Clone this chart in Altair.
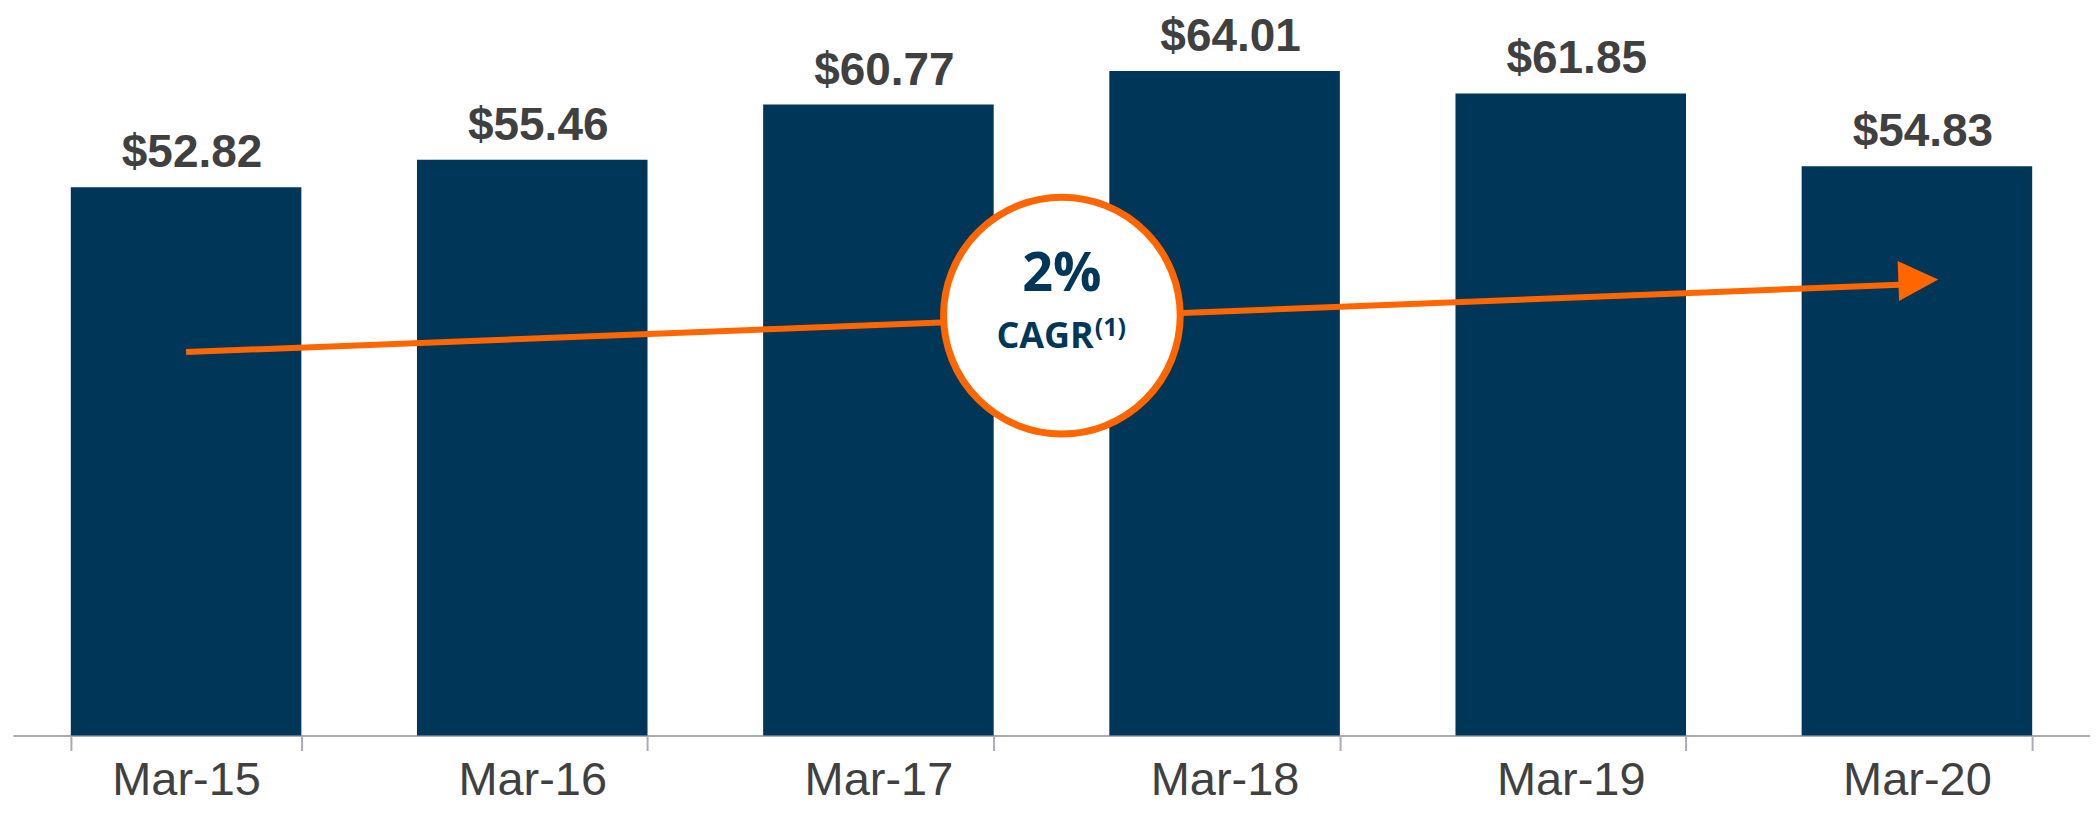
import altair as alt
import pandas as pd

# ---- data ----
categories = ["Mar-15", "Mar-16", "Mar-17", "Mar-18", "Mar-19", "Mar-20"]
values = [52.82, 55.46, 60.77, 64.01, 61.85, 54.83]
value_labels = ["$52.82", "$55.46", "$60.77", "$64.01", "$61.85", "$54.83"]

# trend arrow (x in category units 0..6, y in value units)
trend_x = [0.5, 5.449]
trend_y = [36.93, 43.41]
arrow_tip_x = [5.504]
arrow_tip_y = [43.85]

# CAGR badge
badge_x = [3.03]
badge_y = [40.45]
badge_value = ["2%"]
badge_caption = ["CAGR"]
badge_note = ["(1)"]

NAVY = "#003658"
ORANGE = "#FF6600"
GREY_TEXT = "#404040"
AXIS_GREY = "#A9ADB3"
Y_DOMAIN = [0, 68]
X_DOMAIN = [0, 6]

bar_df = pd.DataFrame({"period": categories, "value": values, "label": value_labels})
trend_df = pd.DataFrame({"x": [trend_x[0]], "x2": [trend_x[1]],
                         "y": [trend_y[0]], "y2": [trend_y[1]]})
tip_df = pd.DataFrame({"x": arrow_tip_x, "y": arrow_tip_y})
badge_df = pd.DataFrame({"x": badge_x, "y": badge_y, "v": badge_value,
                         "c": badge_caption, "n": badge_note})

yscale = alt.Scale(domain=Y_DOMAIN, nice=False, zero=True)
xband = alt.X("period:N", sort=categories,
              scale=alt.Scale(paddingInner=0.334, paddingOuter=0.167),
              axis=alt.Axis(title=None, labelAngle=0))
yval = alt.Y("value:Q", scale=yscale, axis=None)

bars = alt.Chart(bar_df).mark_bar(color=NAVY).encode(x=xband, y=yval)
labels = alt.Chart(bar_df).mark_text(
    font="Liberation Sans", fontWeight="bold", fontSize=46, color=GREY_TEXT,
    align="center", baseline="alphabetic", dx=6, dy=-20
).encode(x=xband, y=yval, text="label:N")

base = alt.layer(bars, labels)

xq = alt.X("x:Q", scale=alt.Scale(domain=X_DOMAIN, nice=False, zero=False), axis=None)
yq = alt.Y("y:Q", scale=yscale, axis=None)

trend = alt.Chart(trend_df).mark_rule(color=ORANGE, strokeWidth=6).encode(
    x=xq, x2="x2:Q", y=yq, y2="y2:Q")
tip = alt.Chart(tip_df).mark_point(
    shape="M-1,-1L1,0L-1,1Z", filled=True, color=ORANGE, opacity=1,
    size=1600, strokeWidth=0, angle=358
).encode(x=xq, y=yq)
circle = alt.Chart(badge_df).mark_point(
    shape="circle", filled=True, fill="white", stroke=ORANGE, strokeWidth=7,
    opacity=1, fillOpacity=1, size=56169
).encode(x=xq, y=yq)
t_value = alt.Chart(badge_df).mark_text(
    font="Open Sans", fontWeight="bold", fontSize=54, color=NAVY,
    align="center", baseline="alphabetic", dy=-24.5
).encode(x=xq, y=yq, text="v:N")
t_caption = alt.Chart(badge_df).mark_text(
    font="Open Sans", fontWeight="bold", fontSize=36, color=NAVY,
    align="right", baseline="alphabetic", dx=32, dy=32.5
).encode(x=xq, y=yq, text="c:N")
t_note = alt.Chart(badge_df).mark_text(
    font="Open Sans", fontWeight="bold", fontSize=25, color=NAVY,
    align="left", baseline="alphabetic", dx=33, dy=20.5
).encode(x=xq, y=yq, text="n:N")

overlay = alt.layer(trend, tip, circle, t_value, t_caption, t_note)

chart = alt.layer(base, overlay).resolve_scale(x="independent").properties(
    width=2080, height=707,
    autosize=alt.AutoSizeParams(type="none"),
    padding={"left": 5, "top": 21, "right": 0, "bottom": 69},
).configure_view(stroke=None).configure_axis(
    domainColor=AXIS_GREY, domainWidth=2, tickColor=AXIS_GREY, tickWidth=2,
    tickSize=15, tickBand="extent", labelFont="Liberation Sans", labelFontSize=47,
    labelColor=GREY_TEXT, labelPadding=44, labelBaseline="alphabetic", grid=False
)

chart.save("out.html", embed_options={"renderer": "svg", "actions": False})
